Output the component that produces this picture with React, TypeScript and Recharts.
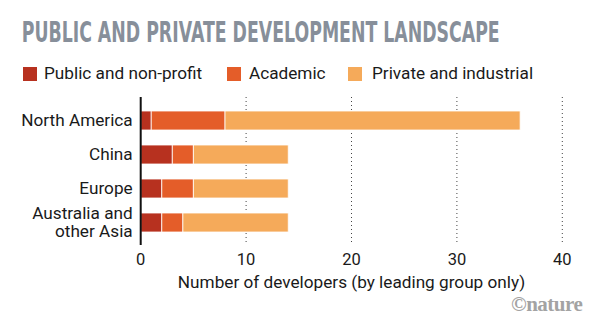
import React from 'react';
import { BarChart, Bar, XAxis, YAxis, CartesianGrid } from 'recharts';

const regions = ['North America', 'China', 'Europe', 'Australia and\nother Asia'];
const publicNonProfit = [1, 3, 2, 2];
const academic = [7, 2, 3, 2];
const privateIndustrial = [28, 9, 9, 10];
const xTicks = [0, 10, 20, 30, 40];

const seriesNames = ['Public and non-profit', 'Academic', 'Private and industrial'];
const seriesKeys = ['pub', 'acad', 'priv'];
const seriesColors = ['#b7311f', '#e45d29', '#f5aa5a'];

const data = regions.map((name, i) => ({
  name,
  pub: publicNonProfit[i],
  acad: academic[i],
  priv: privateIndustrial[i],
}));

const FONT = 'Roboto, "Noto Sans", sans-serif';

const RegionTick = (props: any) => {
  const { x, y, payload } = props;
  const lines: string[] = String(payload.value).split('\n');
  const lh = 18.5;
  const startDy = -((lines.length - 1) * lh) / 2 + 6;
  return (
    <text x={x} y={y} textAnchor="end" fill="#1a1a1a" fontSize={17.2} fontFamily={FONT}>
      {lines.map((l, i) => (
        <tspan key={i} x={x} dy={i === 0 ? startDy : lh}>
          {l}
        </tspan>
      ))}
    </text>
  );
};

const legendX = [[23, 44], [227, 249], [348, 372]];

export default function App() {
  return (
    <div style={{ position: 'absolute', left: 0, top: 0, width: 601, height: 324, background: '#fff', fontFamily: FONT }}>
      <svg width={601} height={60} style={{ position: 'absolute', left: 0, top: 0 }}>
        <g transform="translate(21.7 41.7) scale(1 1.66)">
          <text
            x={0}
            y={0}
            fontFamily='"DejaVu Sans", sans-serif'
            fontWeight="bold"
            fontSize={17}
            fill="#878f9a"
            textLength={478}
            lengthAdjust="spacingAndGlyphs"
          >
            PUBLIC AND PRIVATE DEVELOPMENT LANDSCAPE
          </text>
        </g>
      </svg>

      {seriesNames.map((s, i) => (
        <React.Fragment key={s}>
          <div style={{ position: 'absolute', left: legendX[i][0], top: 67, width: 14, height: 14, background: seriesColors[i] }} />
          <div style={{ position: 'absolute', left: legendX[i][1], top: 63, fontSize: 17.2, lineHeight: '20px', color: '#1a1a1a', whiteSpace: 'nowrap' }}>
            {s}
          </div>
        </React.Fragment>
      ))}

      <div style={{ position: 'absolute', left: 0, top: 0 }}>
        <BarChart
          width={601}
          height={324}
          data={data}
          layout="vertical"
          margin={{ top: 97, right: 38.7, bottom: 0, left: 0 }}
        >
          <CartesianGrid
            horizontal={false}
            vertical={true}
            stroke="#444"
            strokeDasharray="1 3"
            verticalValues={xTicks.slice(1)}
          />
          <XAxis
            type="number"
            domain={[0, 40]}
            ticks={xTicks}
            axisLine={false}
            tickLine={false}
            height={79}
            tick={{ fill: '#1a1a1a', fontSize: 16.5, fontFamily: FONT }}
            label={{
              value: 'Number of developers (by leading group only)',
              position: 'insideBottom',
              offset: 36,
              fill: '#1a1a1a',
              fontSize: 17.2,
              fontFamily: FONT,
            }}
          />
          <YAxis
            type="category"
            dataKey="name"
            width={140.7}
            axisLine={{ stroke: '#111', strokeWidth: 2 }}
            tickLine={false}
            padding={{ top: 6, bottom: 6 }}
            tick={<RegionTick />}
            interval={0}
          />
          {seriesKeys.map((k, i) => (
            <Bar
              key={k}
              dataKey={k}
              stackId="a"
              fill={seriesColors[i]}
              stroke="#fff"
              strokeWidth={0.8}
              barSize={19}
              isAnimationActive={false}
            />
          ))}
        </BarChart>
      </div>

      <div
        style={{
          position: 'absolute',
          left: 511,
          top: 292,
          fontFamily: '"Liberation Serif", "DejaVu Serif", serif',
          fontWeight: 'bold',
          fontSize: 21,
          color: '#a3a3a3',
          letterSpacing: -0.5,
        }}
      >
        ©nature
      </div>
    </div>
  );
}
